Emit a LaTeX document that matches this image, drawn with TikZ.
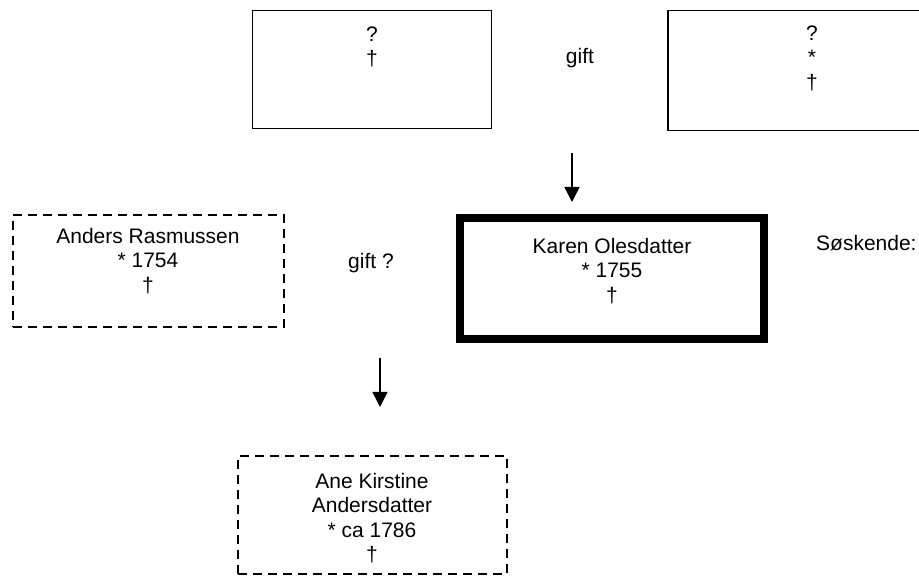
\documentclass[tikz,border=0pt]{standalone}
\usepackage{fontspec}
\setmainfont{Liberation Sans}
\usetikzlibrary{arrows.meta}
\begin{document}
\begin{tikzpicture}[x=1pt,y=-1pt,
  txt/.style={font=\fontsize{21}{24.5}\selectfont, align=center, inner sep=0pt},
  solidbox/.style={draw, line width=1.4pt, inner sep=0pt},
  dashbox/.style={draw, line width=2pt, dash pattern=on 9pt off 6pt, inner sep=0pt},
  thickbox/.style={draw, line width=8pt, inner sep=0pt},
  arr/.style={line width=1.4pt, -{Triangle[width=15pt,length=15pt]}}]
\useasboundingbox (0,0) rectangle (919,577);
\clip (0,0) rectangle (919,577);
% boxes
\node[solidbox, minimum width=239pt, minimum height=118pt] (tl) at (372,69.5) {};
\node[solidbox, minimum width=292pt, minimum height=120pt] (tr) at (814,70.5) {};
\node[dashbox, minimum width=271pt, minimum height=112pt] (anders) at (148.5,271) {};
\node[thickbox, minimum width=304pt, minimum height=121pt] (karen) at (612,278.5) {};
\node[dashbox, minimum width=269pt, minimum height=118pt] (ane) at (372.5,515) {};
% texts
\node[txt] (tlt) at (372,47) {?\\†};
\node[txt] (trt) at (812,58) {?\\*\\†};
\node[txt] (gift1) at (580,58) {gift};
\node[txt] (anderst) at (148,261) {Anders Rasmussen\\* 1754\\†};
\node[txt] (gift2) at (371,263) {gift ?};
\node[txt] (karent) at (612,271) {Karen Olesdatter\\* 1755\\†};
\node[txt, anchor=west] (sosk) at (816,243) {Søskende:};
\node[txt] (anet) at (372,518) {Ane Kirstine\\Andersdatter\\* ca 1786\\†};
% arrows
\coordinate (a1s) at (572,153);
\coordinate (a1e) at (572,202);
\coordinate (a2s) at (380,358);
\coordinate (a2e) at (380,407);
\draw[arr] (a1s) -- (a1e);
\draw[arr] (a2s) -- (a2e);
\end{tikzpicture}
\end{document}
